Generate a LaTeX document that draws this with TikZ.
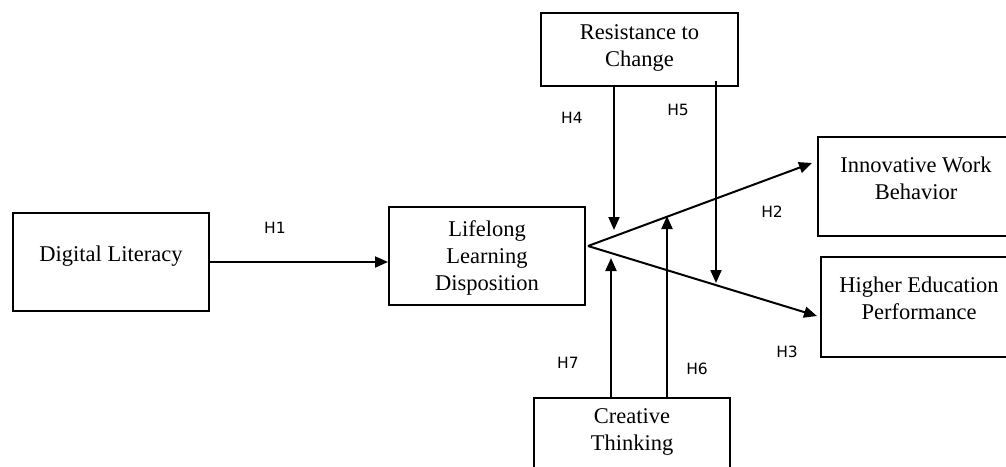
\documentclass[tikz,border=0pt]{standalone}
\usepackage{fontspec}
\setmainfont{Liberation Serif}
\newfontfamily\labfont{DejaVu Sans}
\usetikzlibrary{arrows.meta}
\tikzset{
  box/.style={draw=black, line width=2pt, rectangle, inner sep=0pt},
  boxtext/.style={align=center, font=\fontsize{22.5}{27}\selectfont, inner sep=0pt},
  hlab/.style={font=\labfont\fontsize{15.5}{18}\selectfont, inner sep=0pt},
  conn/.style={line width=2pt, -{Triangle[length=13pt,width=11pt]}}
}
\begin{document}
\begin{tikzpicture}[x=1pt,y=-1pt]
\useasboundingbox (0,0) rectangle (1006,466);
\clip (0,0) rectangle (1006,466);
% boxes
\node[box, minimum width=196pt, minimum height=98pt] (dl) at (111,262) {};
\node[boxtext] (dlt) at (111,256) {Digital Literacy};
\node[box, minimum width=196pt, minimum height=98pt] (lld) at (487,256) {};
\node[boxtext] (lldt) at (487,258) {Lifelong\\Learning\\Disposition};
\node[box, minimum width=197pt, minimum height=73pt] (rc) at (639.5,49.5) {};
\node[boxtext] (rct) at (639.5,48) {Resistance to\\Change};
\node[box, minimum width=196pt, minimum height=99pt] (iwb) at (916,186.5) {};
\node[boxtext] (iwbt) at (916,178) {Innovative Work\\Behavior};
\node[box, minimum width=196pt, minimum height=100pt] (hep) at (919,307) {};
\node[boxtext] (hept) at (919,298) {Higher Education\\Performance};
\node[box, minimum width=196pt, minimum height=98pt] (ct) at (632,447) {};
\node[boxtext] (ctt) at (632,432) {Creative\\Thinking};
% coordinates
\coordinate (v) at (588,246);
\coordinate (iwbtip) at (812,163);
\coordinate (heptip) at (817,316);
\coordinate (h4tip) at (614,230);
\coordinate (h5top) at (716,81);
\coordinate (h5tip) at (716,283);
\coordinate (h6tip) at (667,216);
\coordinate (h7tip) at (611,258);
% connectors
\draw[conn] (dl.east) -- (lld.west |- dl.east);
\draw[conn] (v) -- (iwbtip);
\draw[conn] (v) -- (heptip);
\draw[conn] (rc.south -| h4tip) -- (h4tip);
\draw[conn] (h5top) -- (h5tip);
\draw[conn] (ct.north -| h6tip) -- (h6tip);
\draw[conn] (ct.north -| h7tip) -- (h7tip);
% labels
\node[hlab] (l1) at (275,228) {H1};
\node[hlab] (l2) at (772,212) {H2};
\node[hlab] (l3) at (787,352) {H3};
\node[hlab] (l4) at (572,118) {H4};
\node[hlab] (l5) at (678,110) {H5};
\node[hlab] (l6) at (697,369) {H6};
\node[hlab] (l7) at (568,363) {H7};
\end{tikzpicture}
\end{document}
